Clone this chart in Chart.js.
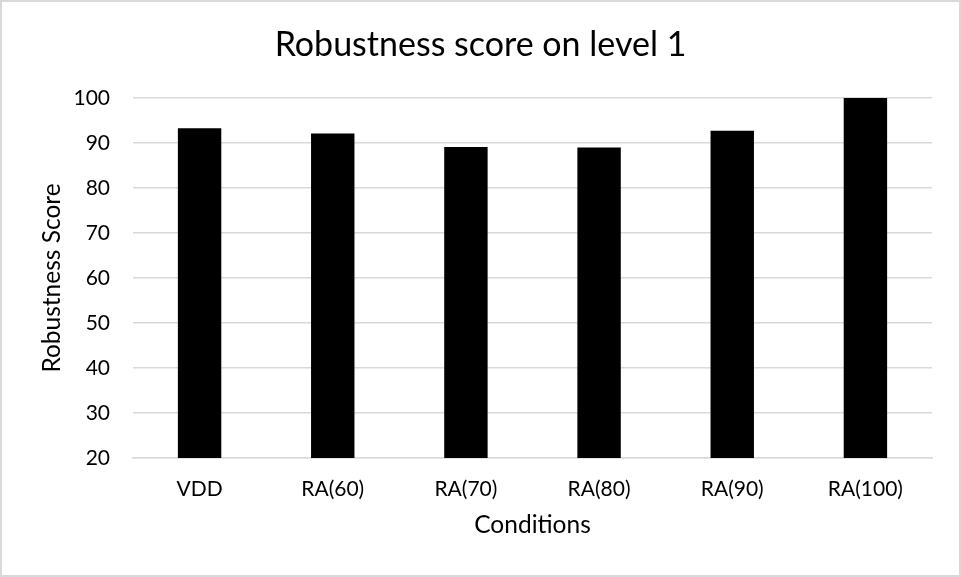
<!DOCTYPE html>
<html>
<head>
<meta charset="utf-8">
<script src="https://cdn.jsdelivr.net/npm/chart.js@4"></script>
<style>
  html, body { margin: 0; padding: 0; background: #ffffff; }
  #wrap { position: relative; width: 961px; height: 577px; }
  canvas { display: block; }
</style>
</head>
<body>
<div id="wrap"><canvas id="chart" width="961" height="577"></canvas></div>
<script>
// Robustness score per condition, level 1
const categories = ['VDD', 'RA(60)', 'RA(70)', 'RA(80)', 'RA(90)', 'RA(100)'];
const scores = [93.3, 92.1, 89.1, 89.0, 92.7, 100];
const yTicks = [20, 30, 40, 50, 60, 70, 80, 90, 100];

const chartTitle = 'Robustness score on level 1';
const xTitle = 'Conditions';
const yTitle = 'Robustness Score';

const FONT = 'Lato, "Open Sans", sans-serif';
const GRID = '#d9d9d9';

// white background and thin frame around the whole chart
const framePlugin = {
  id: 'frame',
  beforeDraw(chart) {
    const { ctx, width, height } = chart;
    ctx.save();
    ctx.fillStyle = '#ffffff';
    ctx.fillRect(0, 0, width, height);
    ctx.strokeStyle = GRID;
    ctx.lineWidth = 2;
    ctx.strokeRect(1, 1, width - 2, height - 2);
    ctx.restore();
  }
};

new Chart(document.getElementById('chart'), {
  type: 'bar',
  data: {
    labels: categories,
    datasets: [{
      data: scores,
      backgroundColor: '#000000',
      borderWidth: 0,
      categoryPercentage: 1,
      barPercentage: 0.326
    }]
  },
  options: {
    responsive: false,
    animation: false,
    devicePixelRatio: 1,
    layout: { padding: 0 },
    plugins: {
      legend: { display: false },
      tooltip: { enabled: false },
      title: {
        display: true,
        text: chartTitle,
        color: '#000000',
        font: { family: FONT, size: 34, weight: 'normal', lineHeight: 1.2 },
        padding: { top: 24.6, bottom: 32.6 }
      }
    },
    scales: {
      x: {
        grid: { display: false, drawTicks: false },
        border: { display: true, color: GRID, width: 1.5 },
        ticks: {
          color: '#000000',
          font: { family: FONT, size: 21, lineHeight: 1.2 },
          padding: 18.7,
          maxRotation: 0,
          autoSkip: false
        },
        title: {
          display: true,
          text: xTitle,
          color: '#000000',
          font: { family: FONT, size: 24.5, lineHeight: 1.2 },
          padding: { top: 0, bottom: 37.3 }
        },
        afterFit(scale) { scale.height = 119; }
      },
      y: {
        min: 20,
        max: 100,
        afterBuildTicks(scale) { scale.ticks = yTicks.map(v => ({ value: v })); },
        grid: { color: GRID, lineWidth: 1.5, drawTicks: false },
        border: { display: false },
        ticks: {
          color: '#000000',
          font: { family: FONT, size: 21, lineHeight: 1.2 },
          padding: 23
        },
        title: {
          display: true,
          text: yTitle,
          color: '#000000',
          font: { family: FONT, size: 24.5, lineHeight: 1.2 },
          padding: { top: 37.3, bottom: 0 }
        },
        afterFit(scale) { scale.width = 133; }
      },
      // empty right-hand margin so the plot ends short of the frame
      margin: {
        type: 'linear',
        position: 'right',
        grid: { display: false, drawTicks: false },
        border: { display: false },
        ticks: { display: false },
        afterFit(scale) { scale.width = 29; }
      }
    }
  },
  plugins: [framePlugin]
});
</script>
</body>
</html>
